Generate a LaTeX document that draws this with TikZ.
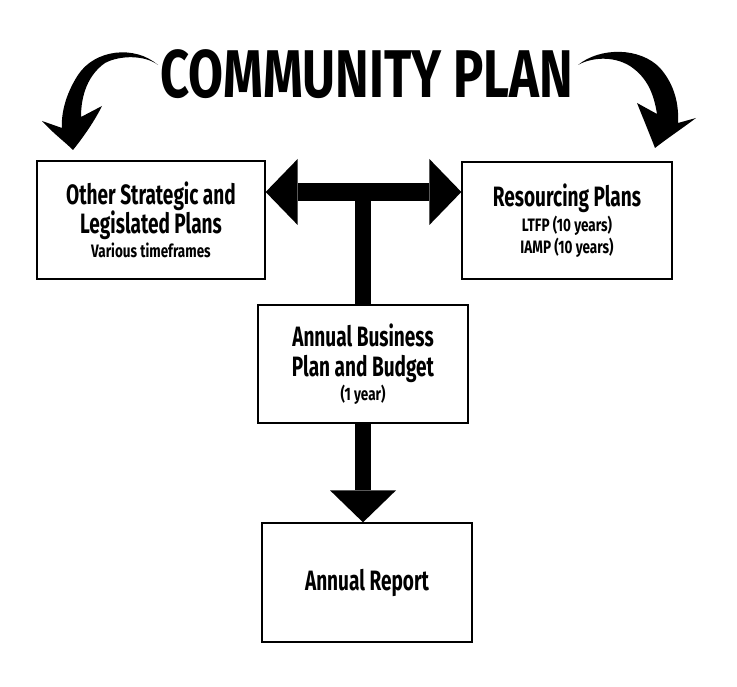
\documentclass[tikz,border=0pt]{standalone}
\usepackage{fontspec}
\setmainfont{Fira Sans}[FakeStretch=0.75]
\newfontfamily\planfont{Fira Sans}[FakeStretch=0.68]
\usetikzlibrary{arrows.meta}

\newcommand\plansub[1]{{\normalfont\bfseries\fontsize{18}{20}\selectfont #1}}

\begin{document}
\begin{tikzpicture}[x=1pt,y=1pt,
  plan/.style={draw, line width=1.3pt, align=center, inner sep=0pt,
    font=\planfont\bfseries\fontsize{28}{30}\selectfont},
  blockhead/.tip={Triangle[length=32pt,width=66pt,line width=0pt]}]
\useasboundingbox (0,0) rectangle (737,687);

% title and the two swooping arrows
\node[font=\bfseries\fontsize{67.5}{70}\selectfont, inner sep=0pt] (title) at (367,613) {COMMUNITY PLAN};
\fill (158,622) .. controls (135,642) and (95,638) .. (78,612)
  .. controls (65,592) and (61,572) .. (62,559) -- (42,566)
  .. controls (55,552) and (65,545) .. (73,537)
  .. controls (85,552) and (95,567) .. (102,581) -- (81,570)
  .. controls (81,592) and (88,612) .. (105,624)
  .. controls (120,632) and (145,632) .. (158,622) -- cycle;
\fill (578,622) .. controls (600,640) and (640,640) .. (660,619)
  .. controls (675,602) and (679,582) .. (678,564) -- (696,569)
  .. controls (680,557) and (665,547) .. (655,539)
  .. controls (650,552) and (643,569) .. (637,584) -- (657,573)
  .. controls (654,592) and (648,609) .. (630,621)
  .. controls (612,632) and (590,629) .. (578,622) -- cycle;

% boxes
\node[plan, minimum width=228pt, minimum height=118pt] (other) at (151,467)
  {Other Strategic and\\[-1pt]Legislated Plans\\[-6pt]\plansub{Various timeframes}};
\node[plan, minimum width=210pt, minimum height=117pt] (res) at (567,466.5)
  {Resourcing Plans\\[-5pt]\plansub{LTFP (10 years)}\\[-8pt]\plansub{IAMP (10 years)}};
\node[plan, minimum width=210pt, minimum height=118pt] (budget) at (363,323)
  {Annual Business\\Plan and Budget\\[-6pt]\plansub{(1 year)}};
\node[plan, minimum width=210pt, minimum height=119pt] (report) at (367,104.5)
  {Annual Report};

% block arrows
\coordinate (tee) at (363,495);
\draw[line width=18pt, blockhead-blockhead] (other.east |- tee) -- (res.west |- tee);
\draw[line width=16pt] (budget.north) -- (budget.north |- tee);
\draw[line width=16pt, -blockhead] (budget.south) -- (budget.south |- report.north);
\end{tikzpicture}
\end{document}
